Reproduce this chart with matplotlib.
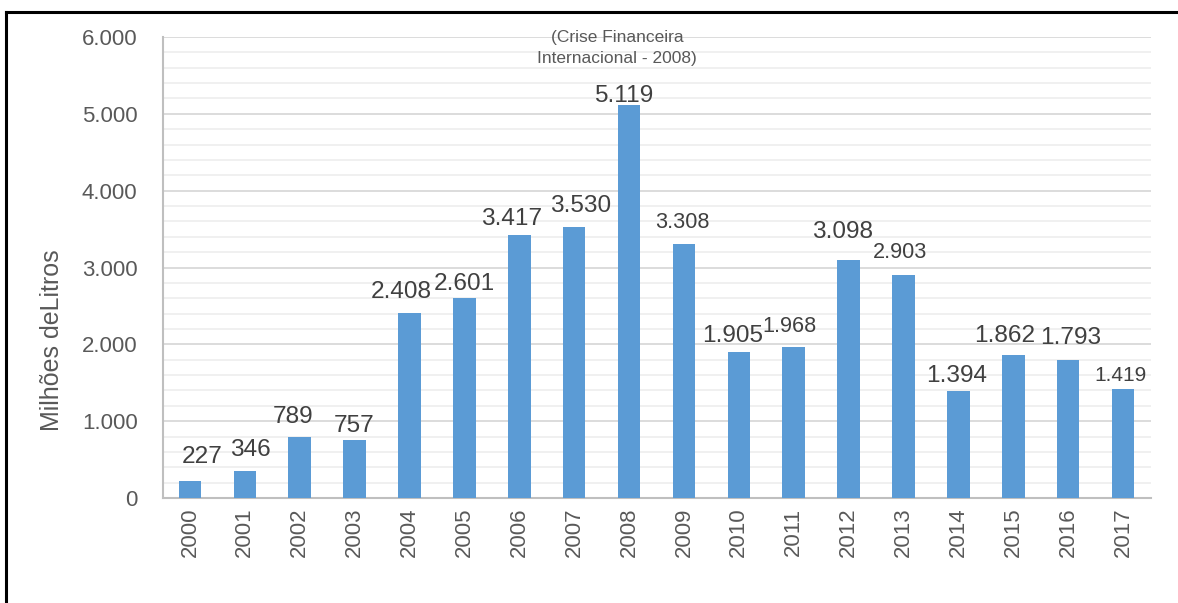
import matplotlib
matplotlib.use("Agg")
import matplotlib.pyplot as plt
from matplotlib.lines import Line2D
from matplotlib.ticker import MultipleLocator, FuncFormatter

years = [str(y) for y in range(2000, 2018)]
values = [227, 346, 789, 757, 2408, 2601, 3417, 3530, 5119, 3308,
          1905, 1968, 3098, 2903, 1394, 1862, 1793, 1419]
labels = ["227", "346", "789", "757", "2.408", "2.601", "3.417", "3.530", "5.119",
          "3.308", "1.905", "1.968", "3.098", "2.903", "1.394", "1.862", "1.793", "1.419"]
y_ticks = [0, 1000, 2000, 3000, 4000, 5000, 6000]
annotation = "(Crise Financeira\nInternacional - 2008)"
ylabel = "Milhões deLitros"

# label style: (dx px, gap px above bar, font size)
B, S = 17.6, 15.6
label_style = [(12, 13, B), (6, 10, B), (-7, 9, B), (0, 3, B),
               (-8, 10, B), (0, 3, B), (-8, 5, B), (6, 10, B),
               (-5, -2, B), (-2, 11, S), (-6, 5, B), (-4, 10, S),
               (-6, 17, B), (-3, 12, S), (-2, 4, B), (-9, 8, B),
               (3, 11, B), (-3, 4, 15)]

plt.rcParams['font.family'] = ['Liberation Sans', 'DejaVu Sans']

fig = plt.figure(figsize=(11.78, 6.03), dpi=100)
ax = fig.add_axes([162.5 / 1178, 105 / 603, 988 / 1178, 461 / 603])

x = list(range(len(years)))
ax.bar(x, values, width=0.41, color="#5b9bd5", zorder=3)
ax.set_xlim(-0.5, len(years) - 0.5)
ax.set_ylim(0, 6000)

ax.yaxis.set_major_locator(MultipleLocator(1000))
ax.yaxis.set_minor_locator(MultipleLocator(200))
ax.set_yticks(y_ticks)
ax.yaxis.set_major_formatter(FuncFormatter(lambda v, p: f"{int(v):,}".replace(",", ".")))
ax.grid(axis="y", which="major", color="#d9d9d9", linewidth=1.3, zorder=0)
ax.grid(axis="y", which="minor", color="#efefef", linewidth=1.3, zorder=0)
ax.set_axisbelow(True)

ax.set_xticks(x)
ax.set_xticklabels(years, rotation=90)
ax.tick_params(axis="y", which="both", length=0, pad=18, labelsize=16, labelcolor="#595959")
ax.tick_params(axis="x", length=0, pad=7, labelsize=16, labelcolor="#595959")

for s in ["top", "right"]:
    ax.spines[s].set_visible(False)
for s in ["left", "bottom"]:
    ax.spines[s].set_color("#bfbfbf")
    ax.spines[s].set_linewidth(1.5)

ax.set_ylabel(ylabel, fontsize=18, color="#595959")
ax.yaxis.set_label_coords(-0.100, 0.343)

px = 72 / 100
for xi, v, lab, (dx, gap, fs) in zip(x, values, labels, label_style):
    ax.annotate(lab, (xi, v), xytext=(dx * px, gap * px), textcoords="offset points",
                ha="center", va="bottom", fontsize=fs, color="#404040", zorder=4)

ax.text(7.78, 5857, annotation, ha="center", va="center", fontsize=12.5,
        color="#595959", linespacing=1.5, zorder=4)

# outer frame (top and left)
fig.add_artist(Line2D([6 / 1178, 1.0], [1 - 12 / 603, 1 - 12 / 603], color="black",
                      linewidth=2.2, transform=fig.transFigure))
fig.add_artist(Line2D([6 / 1178, 6 / 1178], [0.0, 1 - 12 / 603], color="black",
                      linewidth=2.2, transform=fig.transFigure))

fig.savefig("out.png", dpi=100)
